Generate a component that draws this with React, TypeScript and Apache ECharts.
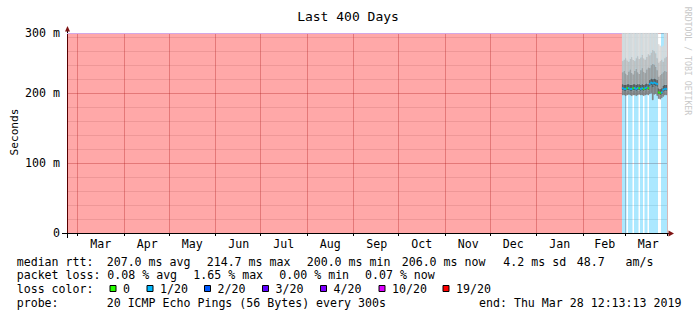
import React, { useEffect, useRef } from "react";
import * as echarts from "echarts";

// ---------- text ----------
const TITLE = "Last 400 Days";
const Y_AXIS_NAME = "Seconds";
const WATERMARK = "RRDTOOL / TOBI OETIKER";
const MONTH_NAMES = ["Jan", "Feb", "Mar", "Apr", "May", "Jun", "Jul", "Aug", "Sep", "Oct", "Nov", "Dec"];

// ---------- axes ----------
const FIRST_DAY_UTC = Date.UTC(2018, 1, 22);
const DAY_COUNT = 400;
const NO_DATA_DAYS = 370; // days before the probe had data (drawn as full-loss background)
const Y_MAX = 286;
const Y_STEP = 20;
const Y_TOP_LABEL = "300 m";

// ---------- data: the last 30 days (ms) ----------
const lossLevel = [1, 1, 1, 0, 1, 1, 1, 0, 1, 1, 1, 0, 1, 1, 0, 1, 1, 0, 1, 1, 1, 1, 1, 1, 0, 0, 1, 1, 1, 1];
const medianRtt = [207, 206, 206, 207, 207, 206, 206, 207, 207, 206, 207, 207, 206, 207, 206, 207, 208, 207, 213, 215, 214, 215, 214, 213, 201, 200, 201, 205, 206, 206];
const pingMin = [197, 197, 196, 197, 198, 197, 196, 197, 197, 196, 197, 198, 197, 197, 196, 197, 198, 197, 199, 200, 190, 198, 199, 196, 192, 191, 193, 195, 197, 197];
const pingLow = [204, 203, 203, 204, 204, 203, 203, 204, 204, 203, 204, 204, 203, 204, 203, 204, 205, 204, 210, 211, 208, 211, 210, 209, 198, 197, 198, 202, 203, 203];
const pingHigh1 = [213, 212, 212, 213, 213, 212, 212, 213, 213, 212, 213, 213, 212, 213, 212, 213, 214, 213, 219, 221, 220, 221, 220, 219, 207, 206, 207, 211, 212, 212];
const pingHigh2 = [230, 232, 228, 226, 231, 234, 229, 227, 232, 235, 230, 228, 233, 236, 231, 229, 234, 237, 236, 240, 242, 241, 238, 233, 224, 226, 228, 230, 232, 231];
const pingHigh3 = [246, 248, 250, 247, 245, 249, 252, 248, 246, 250, 253, 249, 251, 255, 250, 248, 252, 256, 254, 258, 262, 260, 257, 250, 244, 246, 248, 245, 250, 252];
const pingMax = [286, 286, 286, 286, 286, 286, 286, 286, 286, 286, 286, 286, 286, 286, 286, 286, 286, 286, 286, 286, 286, 286, 286, 286, 270, 268, 266, 268, 286, 286];

// ---------- legend ----------
const lossLegendLabels = ["0", "1/20", "2/20", "3/20", "4/20", "10/20", "19/20"];
const lossLegendColors = ["#26ff00", "#00b8ff", "#0059ff", "#5e00ff", "#7e00ff", "#dd00ff", "#ff0000"];
const rttStats = ["207.0 ms avg", "214.7 ms max", "200.0 ms min", "206.0 ms now", "4.2 ms sd", "48.7   am/s"];
const lossStats = ["0.08 % avg", "1.65 % max", "0.00 % min", "0.07 % now"];
const PROBE_TEXT = "20 ICMP Echo Pings (56 Bytes) every 300s";
const END_TEXT = "end: Thu Mar 28 12:13:13 2019";

// ---------- style ----------
const FONT = "'DejaVu Sans Mono', monospace";
const FS = 11.6;
const MAJOR_GRID = "rgba(130,30,30,0.32)";
const MINOR_GRID = "rgba(140,140,140,0.22)";
const ARROW = "#7f1414";
const LOSS_BG = ["rgba(0,0,0,0)", "rgba(0,184,255,0.33)"];
const UNKNOWN_BG = "rgba(255,0,0,0.34)";
const UNKNOWN_TOP = "#d2a8e6";
const SMOKE = ["#7a7a7a", "#505050", "#9a9a9a", "#bdbdbd", "#d9d9d9"];
const GL = 67, GT = 33, GR = 667, GB = 233;

const dayLabels: string[] = [];
for (let i = 0; i < DAY_COUNT; i++) {
  dayLabels.push(new Date(FIRST_DAY_UTC + i * 86400000).toISOString().slice(0, 10));
}
const dom = (s: string) => +s.slice(8, 10);
const mon = (s: string) => +s.slice(5, 7);
const isMonthStart = (_i: number, v: string) => dom(v) === 1;
const isLabelDay = (_i: number, v: string) => dom(v) === (mon(v) === 2 ? 15 : 16);

const pad = (arr: any[]) => new Array(NO_DATA_DAYS).fill(null).concat(arr);
const diff = (a: number[], b: number[]) => a.map((v, i) => v - b[i]);

// runs of background colour: [firstDay, lastDay, level, top]; level -1 = no data
const bgRuns: number[][] = [[0, NO_DATA_DAYS - 1, -1, Y_MAX]];
lossLevel.forEach((l, k) => {
  const day = NO_DATA_DAYS + k;
  const last = bgRuns[bgRuns.length - 1];
  if (l <= 0) return;
  if (last[2] === l && last[1] === day - 1) last[1] = day;
  else bgRuns.push([day, day, l, Y_MAX]);
});

export default function App() {
  const ref = useRef<HTMLDivElement>(null);
  useEffect(() => {
    if (!ref.current) return;
    const chart = echarts.init(ref.current, undefined, { renderer: "svg" });
    const common = {
      type: "bar",
      barCategoryGap: "0%",
      barGap: "-100%",
      silent: true,
      emphasis: { disabled: true },
    };
    const smokeBands = [
      diff(pingLow, pingMin),
      diff(pingHigh1, pingLow),
      diff(pingHigh2, pingHigh1),
      diff(pingHigh3, pingHigh2),
      diff(pingMax, pingHigh3),
    ];
    const series: any[] = [
      {
        type: "custom",
        name: "lossbg",
        silent: true,
        data: bgRuns,
        encode: { x: [0, 1], y: 3 },
        renderItem: (_p: any, api: any) => {
          const s = api.value(0), e = api.value(1), lvl = api.value(2), top = api.value(3);
          const p0 = api.coord([s, top]);
          const p1 = api.coord([e, 0]);
          const bw = api.size([1, 0])[0];
          const x0 = p0[0] - bw / 2, x1 = p1[0] + bw / 2;
          const rect = {
            type: "rect",
            shape: { x: x0, y: p0[1], width: x1 - x0, height: p1[1] - p0[1] },
            style: { fill: lvl < 0 ? UNKNOWN_BG : LOSS_BG[lvl] },
          };
          if (lvl >= 0) return rect;
          return {
            type: "group",
            children: [
              rect,
              { type: "line", shape: { x1: x0, y1: p0[1] + 0.5, x2: x1, y2: p0[1] + 0.5 }, style: { stroke: UNKNOWN_TOP, lineWidth: 1 } },
            ],
          };
        },
      },
      { ...common, name: "smokeBase", stack: "smoke", data: pad(pingMin), itemStyle: { color: "rgba(0,0,0,0)" } },
      ...smokeBands.map((band, i) => ({
        ...common,
        name: "smoke" + i,
        stack: "smoke",
        data: pad(band),
        itemStyle: { color: SMOKE[i], borderColor: SMOKE[i], borderWidth: 0.7 },
      })),
      { ...common, name: "medBase", stack: "med", data: pad(medianRtt.map((m) => m - 1.5)), itemStyle: { color: "rgba(0,0,0,0)" } },
      {
        ...common,
        name: "median",
        stack: "med",
        data: pad(
          medianRtt.map((_m, i) => {
            const c = lossLegendColors[lossLevel[i]];
            return { value: 3, itemStyle: { color: c, borderColor: c, borderWidth: 0.7 } };
          })
        ),
      },
    ];

    const txt = (x: number, y: number, text: string, extra: any = {}) => ({
      type: "text",
      x,
      y,
      silent: true,
      style: { text, font: `${FS}px ${FONT}`, fill: "#000", textAlign: "left", textVerticalAlign: "middle", ...extra },
    });
    const graphics: any[] = [
      txt(348, 16, TITLE, { font: `13px ${FONT}`, textAlign: "center" }),
      { ...txt(14.5, 132, Y_AXIS_NAME, { textAlign: "center", font: `11.2px ${FONT}` }), rotation: Math.PI / 2 },
      { ...txt(688, 61, WATERMARK, { textAlign: "center", font: `8.2px ${FONT}`, fill: "#c8c8c8" }), rotation: -Math.PI / 2 },
      // axis extensions & arrows
      { type: "line", silent: true, shape: { x1: GL - 5, y1: GB + 0.5, x2: GL, y2: GB + 0.5 }, style: { stroke: "#000", lineWidth: 1 } },
      { type: "line", silent: true, shape: { x1: GL + 0.5, y1: GB, x2: GL + 0.5, y2: GB + 5 }, style: { stroke: "#000", lineWidth: 1 } },
      { type: "line", silent: true, shape: { x1: GL + 0.5, y1: GT - 2, x2: GL + 0.5, y2: GT }, style: { stroke: "#000", lineWidth: 1 } },
      { type: "line", silent: true, shape: { x1: GR, y1: GB + 0.5, x2: GR + 2, y2: GB + 0.5 }, style: { stroke: "#000", lineWidth: 1 } },
      { type: "polygon", silent: true, shape: { points: [[GL - 2, GT - 1.5], [GL + 3, GT - 1.5], [GL + 0.5, GT - 7]] }, style: { fill: ARROW } },
      { type: "polygon", silent: true, shape: { points: [[GR + 1.5, GB - 2.5], [GR + 1.5, GB + 3.5], [GR + 7, GB + 0.5]] }, style: { fill: ARROW } },
      // legend line 1
      txt(16.7, 261.7, "median rtt:"),
      ...rttStats.map((s, i) => txt([106.7, 206.7, 306.7, 401.7, 503.3, 576.7][i], 261.7, s)),
      // line 2
      txt(16.7, 275, "packet loss:"),
      ...lossStats.map((s, i) => txt([107.3, 193.3, 279.3, 365][i], 275, s)),
      // line 3
      txt(16.7, 289.3, "loss color:"),
      ...lossLegendLabels.flatMap((s, i) => {
        const bx = [109.5, 146.5, 204, 262, 320, 378.5, 442.5][i];
        return [
          { type: "rect", silent: true, shape: { x: bx + 0.5, y: 285.5, width: 6, height: 6 }, style: { fill: lossLegendColors[i], stroke: "#000", lineWidth: 1 } },
          txt(bx + 13.5, 289.3, s),
        ];
      }),
      // line 4
      txt(16.7, 303.3, "probe:"),
      txt(106.7, 303.3, PROBE_TEXT),
      txt(479, 303.3, END_TEXT),
    ];

    chart.setOption({
      animation: false,
      backgroundColor: "#fff",
      grid: { left: GL, top: GT, width: GR - GL, height: GB - GT, containLabel: false, outerBoundsMode: "none" },
      xAxis: {
        type: "category",
        data: dayLabels,
        boundaryGap: true,
        axisLine: { show: true, lineStyle: { color: "#000", width: 1 } },
        axisTick: { show: true, interval: isMonthStart, length: 3, lineStyle: { color: "#000" } },
        axisLabel: {
          interval: isLabelDay,
          formatter: (v: string) => MONTH_NAMES[mon(v) - 1],
          fontFamily: FONT,
          fontSize: FS,
          color: "#000",
          margin: 5,
        },
        splitLine: { show: true, interval: isMonthStart, lineStyle: { color: MAJOR_GRID, width: 1 } },
      },
      yAxis: {
        type: "value",
        min: 0,
        max: Y_MAX,
        interval: Y_STEP,
        axisLine: { show: true, lineStyle: { color: "#000", width: 1 } },
        axisTick: { show: false },
        axisLabel: {
          fontFamily: FONT,
          fontSize: FS,
          color: "#000",
          margin: 7,
          showMaxLabel: true,
          showMinLabel: true,
          formatter: (v: number) => (v === 0 ? "0" : v === Y_MAX ? Y_TOP_LABEL : v % 100 === 0 ? `${v} m` : ""),
        },
        splitLine: { show: true, lineStyle: { color: [MAJOR_GRID, MINOR_GRID, MINOR_GRID, MINOR_GRID, MINOR_GRID], width: 1 } },
      },
      series,
      graphic: graphics,
    });
    return () => chart.dispose();
  }, []);
  return <div ref={ref} style={{ position: "absolute", left: 0, top: 0, width: 697, height: 321 }} />;
}
